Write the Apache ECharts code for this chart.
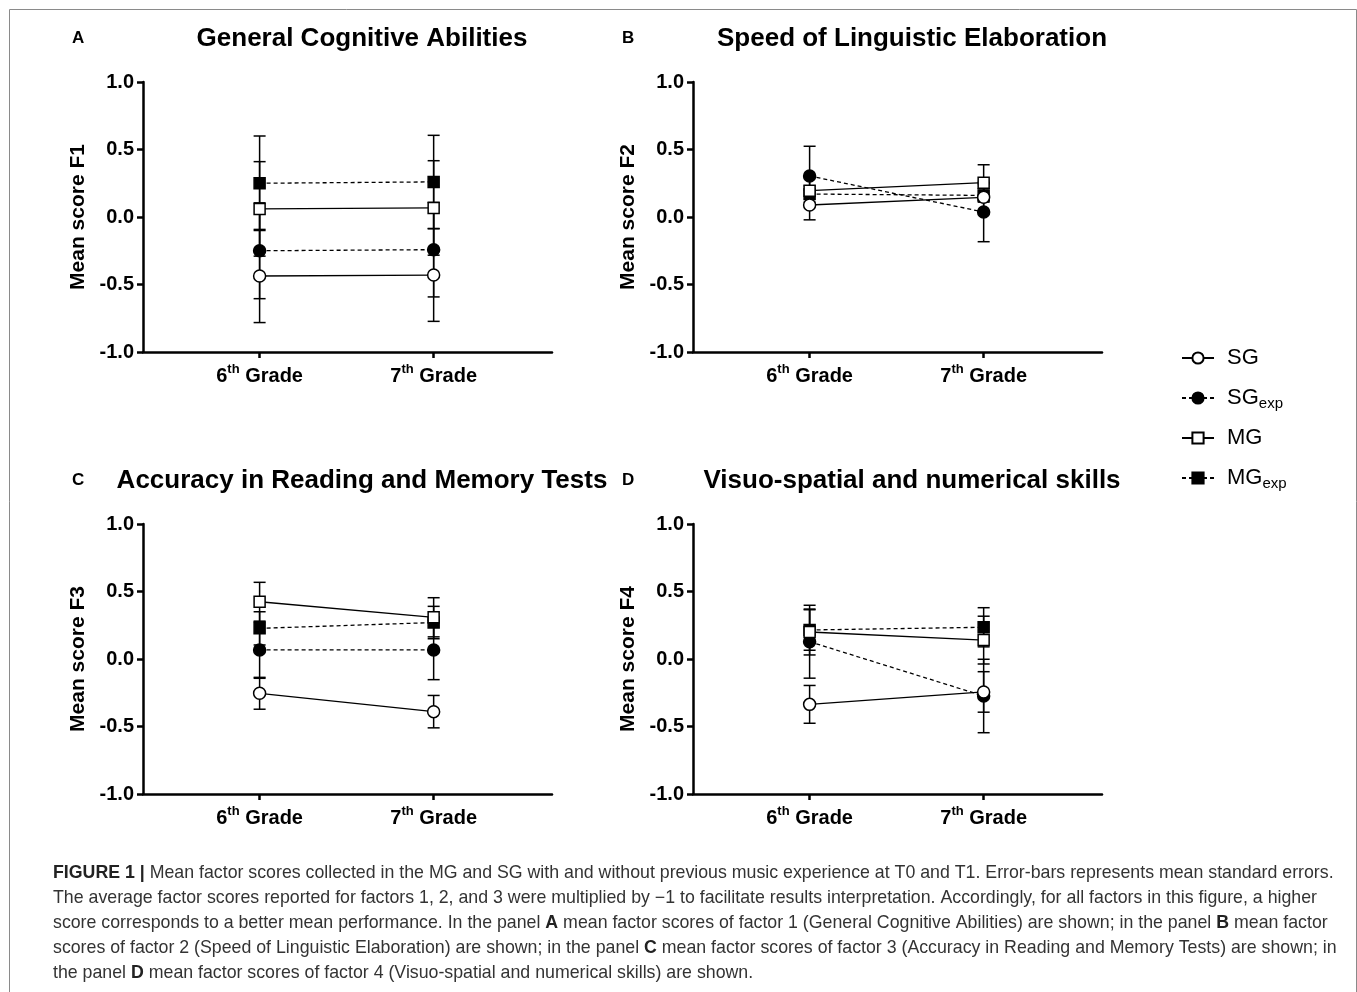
<!DOCTYPE html>
<html>
<head>
<meta charset="utf-8">
<script src="https://cdn.jsdelivr.net/npm/echarts@6/dist/echarts.min.js"></script>
<style>
  html, body { margin: 0; padding: 0; background: #fff; }
  #chart { width: 1357px; height: 992px; }
</style>
</head>
<body>
<div id="chart"></div>
<script>
// Mean factor scores, 6th and 7th grade

const gradeLabels = ['6th Grade', '7th Grade'];
const gradeX = [1, 2];
const yTicks = [-1.0, -0.5, 0.0, 0.5, 1.0];
const groupNames = ['SG', 'SGexp', 'MG', 'MGexp'];

const panelTitles = ['General Cognitive Abilities', 'Speed of Linguistic Elaboration',
  'Accuracy in Reading and Memory Tests', 'Visuo-spatial and numerical skills'];
const panelLetters = ['A', 'B', 'C', 'D'];
const yNames = ['Mean score F1', 'Mean score F2', 'Mean score F3', 'Mean score F4'];

// means [6th, 7th] and standard errors [6th, 7th], one row per panel
const sgMean    = [[-0.437, -0.430], [0.089, 0.146], [-0.254, -0.390], [-0.336, -0.244]];
const sgErr     = [[0.345, 0.343], [0.110, 0.100], [0.118, 0.120], [0.140, 0.150]];
const sgExpMean = [[-0.250, -0.242], [0.304, 0.037], [0.067, 0.067], [0.128, -0.274]];
const sgExpErr  = [[0.355, 0.350], [0.220, 0.220], [0.210, 0.220], [0.270, 0.272]];
const mgMean    = [[0.060, 0.067], [0.195, 0.254], [0.424, 0.309], [0.200, 0.140]];
const mgErr     = [[0.350, 0.350], [0.100, 0.133], [0.144, 0.145], [0.170, 0.177]];
const mgExpMean = [[0.250, 0.260], [0.170, 0.160], [0.227, 0.270], [0.215, 0.235]];
const mgExpErr  = [[0.350, 0.345], [0.060, 0.050], [0.123, 0.120], [0.150, 0.145]];

const captionLines = [
  '{b|FIGURE 1 |} Mean factor scores collected in the MG and SG with and without previous music experience at T0 and T1. Error-bars represents mean standard errors.',
  'The average factor scores reported for factors 1, 2, and 3 were multiplied by \u22121 to facilitate results interpretation. Accordingly, for all factors in this figure, a higher',
  'score corresponds to a better mean performance. In the panel {b|A} mean factor scores of factor 1 (General Cognitive Abilities) are shown; in the panel {b|B} mean factor',
  'scores of factor 2 (Speed of Linguistic Elaboration) are shown; in the panel {b|C} mean factor scores of factor 3 (Accuracy in Reading and Memory Tests) are shown; in',
  'the panel {b|D} mean factor scores of factor 4 (Visuo-spatial and numerical skills) are shown.'
];

const FONT = '"Liberation Sans", Arial, Helvetica, sans-serif';
const GRIDS = [
  { left: 143, top: 82 }, { left: 693, top: 82 },
  { left: 143, top: 524 }, { left: 693, top: 524 }
];
const GW = 409, GH = 270;

const STYLES = {
  SG:    { symbol: 'circle', size: 12, fill: '#fff', dash: 'solid' },
  SGexp: { symbol: 'circle', size: 12, fill: '#000', dash: [4, 3] },
  MG:    { symbol: 'rect', size: 11, fill: '#fff', dash: 'solid' },
  MGexp: { symbol: 'rect', size: 11, fill: '#000', dash: [4, 3] }
};

const chart = echarts.init(document.getElementById('chart'), null, { renderer: 'canvas' });

function gradeLabel(v) {
  const i = gradeX.indexOf(v);
  if (i < 0) return '';
  const parts = gradeLabels[i].split(' ');
  const num = parts[0].replace('th', '');
  return num + '{sup|th} ' + parts.slice(1).join(' ');
}

function renderErr(params, api) {
  const x = api.value(0), m = api.value(1), e = api.value(2);
  const top = api.coord([x, m + e]);
  const bot = api.coord([x, m - e]);
  const hw = 6;
  const st = { stroke: '#000', lineWidth: 1.5 };
  return {
    type: 'group',
    children: [
      { type: 'line', shape: { x1: top[0], y1: top[1], x2: bot[0], y2: bot[1] }, style: st },
      { type: 'line', shape: { x1: top[0] - hw, y1: top[1], x2: top[0] + hw, y2: top[1] }, style: st },
      { type: 'line', shape: { x1: bot[0] - hw, y1: bot[1], x2: bot[0] + hw, y2: bot[1] }, style: st }
    ]
  };
}

const grid = [], xAxis = [], yAxis = [], series = [], title = [];

GRIDS.forEach((g, p) => {
  grid.push({ left: g.left, top: g.top, width: GW, height: GH });
  xAxis.push({
    type: 'value', gridIndex: p, min: 0.33, max: 2.68,
    axisLine: { show: true, onZero: false, lineStyle: { color: '#000', width: 2.5 } },
    axisTick: { show: true, customValues: gradeX, length: 6, lineStyle: { color: '#000', width: 2.5 } },
    axisLabel: {
      customValues: gradeX, formatter: gradeLabel, margin: 11,
      color: '#000', fontFamily: FONT, fontWeight: 'bold', fontSize: 20, lineHeight: 26,
      rich: { sup: { fontSize: 13, lineHeight: 14, verticalAlign: 'top', fontWeight: 'bold', fontFamily: FONT, color: '#000' } }
    },
    splitLine: { show: false }
  });
  yAxis.push({
    type: 'value', gridIndex: p, min: yTicks[0], max: yTicks[yTicks.length - 1], interval: 0.5,
    name: yNames[p], nameLocation: 'middle', nameGap: 54,
    nameTextStyle: { color: '#000', fontFamily: FONT, fontWeight: 'bold', fontSize: 21 },
    axisLine: { show: true, lineStyle: { color: '#000', width: 2.5 } },
    axisTick: { show: true, length: 6, lineStyle: { color: '#000', width: 2.5 } },
    axisLabel: {
      formatter: v => v.toFixed(1), margin: 9,
      color: '#000', fontFamily: FONT, fontWeight: 'bold', fontSize: 20
    },
    splitLine: { show: false }
  });
  // panel title centred a little right of the plot middle
  title.push({
    text: panelTitles[p], left: g.left + 214, top: g.top - 61,
    textAlign: 'center',
    textStyle: { fontFamily: FONT, fontWeight: 'bold', fontSize: 26, color: '#000' }
  });
  title.push({
    text: panelLetters[p], left: g.left - 76, top: g.top - 57,
    textStyle: { fontFamily: FONT, fontWeight: 'bold', fontSize: 17, color: '#000' }
  });

  const groups = {
    SG: [sgMean[p], sgErr[p]], SGexp: [sgExpMean[p], sgExpErr[p]],
    MG: [mgMean[p], mgErr[p]], MGexp: [mgExpMean[p], mgExpErr[p]]
  };
  // error bars below everything
  groupNames.forEach(name => {
    const [m, e] = groups[name];
    series.push({
      type: 'custom', xAxisIndex: p, yAxisIndex: p, z: 1, silent: true,
      renderItem: renderErr,
      encode: { x: 0, y: 1 },
      data: gradeX.map((x, i) => [x, m[i], e[i]])
    });
  });
  // draw order: exp groups first, open markers on top
  ['MGexp', 'SGexp', 'MG', 'SG'].forEach((name, k) => {
    const s = STYLES[name];
    const m = groups[name][0];
    series.push({
      type: 'line', name: name, xAxisIndex: p, yAxisIndex: p, z: 3 + k,
      data: gradeX.map((x, i) => [x, m[i]]),
      symbol: s.symbol, symbolSize: s.size, showSymbol: true,
      lineStyle: { color: '#000', width: 1.3, type: s.dash },
      itemStyle: { color: s.fill, borderColor: '#000', borderWidth: 1.5 },
      emphasis: { disabled: true }
    });
  });
});

const graphic = [
  {
    type: 'rect', left: 7, top: 7, silent: true,
    shape: { width: 1347, height: 1000 },
    style: { fill: 'none', stroke: '#8a8a8a', lineWidth: 1 }
  }
];
captionLines.forEach((line, i) => {
  graphic.push({
    type: 'text', left: 53, top: 864 + i * 25, silent: true,
    style: {
      text: line, fill: '#333', font: '17.75px ' + FONT,
      rich: { b: { fontWeight: 'bold', fontSize: 17.75, fontFamily: FONT, fill: '#222' } }
    }
  });
});

chart.setOption({
  animation: false,
  backgroundColor: '#fff',
  title: title,
  grid: grid,
  xAxis: xAxis,
  yAxis: yAxis,
  legend: {
    data: groupNames, orient: 'vertical', left: 1176, top: 340,
    itemWidth: 32, itemHeight: 14, itemGap: 14,
    selectedMode: false,
    formatter: n => n.endsWith('exp') ? n.slice(0, -3) + '{sub|exp}' : n,
    textStyle: {
      color: '#000', fontFamily: FONT, fontSize: 22, lineHeight: 26, padding: [0, 0, 0, 8],
      rich: { sub: { fontSize: 15, lineHeight: 12, verticalAlign: 'bottom', fontFamily: FONT, color: '#000' } }
    }
  },
  series: series,
  graphic: graphic
});
</script>
</body>
</html>
